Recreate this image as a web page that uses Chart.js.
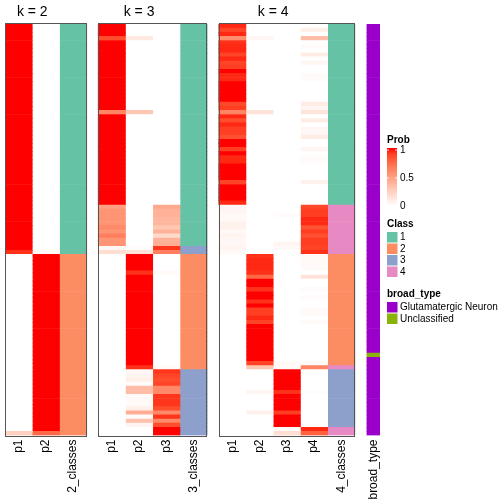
<!DOCTYPE html>
<html>
<head>
<meta charset="utf-8">
<script src="https://cdn.jsdelivr.net/npm/chart.js@4.4.1/dist/chart.umd.min.js"></script>
<style>
  html, body { margin: 0; padding: 0; background: #fff; }
</style>
</head>
<body>
<canvas id="heat" width="504" height="504"></canvas>
<script>
// membership probabilities per sample (rows top to bottom)
const k2_p1 = [
  1,1,1,1,1,1,1,1,1,1, 1,1,1,1,1,1,1,1,1,1, 1,1,1,1,1,1,1,1,1,1, 1,1,1,1,1,1,1,1,1,1,
  1,1,1,1,1,1,1,1,1,1, 1,1,1,1,1,.93,0,0,0,0, 0,0,0,0,0,0,0,0,0,0, 0,0,0,0,0,0,0,0,0,0,
  0,0,0,0,0,0,0,0,0,0, 0,0,0,0,0,0,0,0,0,.25];
const k2_p2 = [
  0,0,0,0,0,0,0,0,0,0, 0,0,0,0,0,0,0,0,0,0, 0,0,0,0,0,0,0,0,0,0, 0,0,0,0,0,0,0,0,0,0,
  0,0,0,0,0,0,0,0,0,0, 0,0,0,0,0,.03,1,1,1,1, 1,1,1,1,1,1,1,1,1,1, 1,1,1,1,1,1,1,1,1,1,
  1,1,1,1,1,1,1,1,1,1, 1,1,1,1,1,1,1,1,1,.75];
const k2_class = [
  1,1,1,1,1,1,1,1,1,1, 1,1,1,1,1,1,1,1,1,1, 1,1,1,1,1,1,1,1,1,1, 1,1,1,1,1,1,1,1,1,1,
  1,1,1,1,1,1,1,1,1,1, 1,1,1,1,1,1,2,2,2,2, 2,2,2,2,2,2,2,2,2,2, 2,2,2,2,2,2,2,2,2,2,
  2,2,2,2,2,2,2,2,2,2, 2,2,2,2,2,2,2,2,2,2];

const k3_p1 = [
  1,1,1,.85,1,1,1,1,1,1, 1,1,1,1,1,1,1,1,1,1, 1,.62,1,1,1,1,1,1,1,1, 1,1,1,1,1,1,1,1,1,1,
  1,1,1,1,.5,.55,.55,.55,.55,.6, .55,.65,.55,.55,.04,.18,0,0,0,0, 0,0,0,0,0,0,0,0,0,0, 0,0,0,0,0,0,0,0,0,0,
  0,0,0,0,0,0,0,0,0,0, 0,0,0,0,0,0,0,0,0,0];
const k3_p2 = [
  0,0,0,.12,0,0,0,0,0,0, 0,0,0,0,0,0,0,0,0,0, 0,.3,0,0,0,0,0,0,0,0, 0,0,0,0,0,0,0,0,0,0,
  0,0,0,0,0,0,0,0,0,0, 0,0,0,0,.02,.15,1,1,1,1, .93,1,1,1,1,1,1,1,1,1, 1,1,1,1,1,1,1,1,1,1,
  1,1,1,.93,.04,.06,.08,.02,.35,.35, .03,.03,.03,.08,.42,.02,.32,.06,0,0];
const k3_p3 = [
  0,0,0,0,0,0,0,0,0,0, 0,0,0,0,0,0,0,0,0,0, 0,0,0,0,0,0,0,0,0,0, 0,0,0,0,0,0,0,0,0,0,
  0,0,0,0,.45,.4,.4,.38,.38,.3, .4,.2,.4,.42,.92,.65,0,0,0,0, .03,0,0,0,0,0,0,0,0,0, 0,0,0,0,0,0,0,0,0,0,
  0,0,0,.03,.92,.88,.85,.88,.6,.6, .92,.92,.92,.85,.6,.92,.6,.85,1,1];
const k3_class = [
  1,1,1,1,1,1,1,1,1,1, 1,1,1,1,1,1,1,1,1,1, 1,1,1,1,1,1,1,1,1,1, 1,1,1,1,1,1,1,1,1,1,
  1,1,1,1,1,1,1,1,1,1, 1,1,1,1,3,3,2,2,2,2, 2,2,2,2,2,2,2,2,2,2, 2,2,2,2,2,2,2,2,2,2,
  2,2,2,2,3,3,3,3,3,3, 3,3,3,3,3,3,3,3,3,3];

const k4_p1 = [
  .95,.88,.95,.58,.93,.95,.95,.88,.95,.88, .9,1,.95,.95,1,1,1,1,1,.87,
  .9,.62,.95,.85,.95,.9,.9,.84,1,1, .9,1,.95,.95,1,1,1,1,.88,1,
  1,1,1,.95,.04,.05,.03,.03,.07,.07, .03,.06,.04,.04,.06,.03,0,0,0,0,
  0,0,0,0,0,0,0,0,0,0, 0,0,0,0,0,0,0,0,0,0, 0,0,0,0,0,0,0,0,0,0, 0,0,0,0,0,0,0,0,0,0];
const k4_p2 = [
  0,0,0,.05,0,0,0,0,0,0, 0,0,0,0,0,0,0,0,0,0, 0,.15,0,0,0,0,0,0,0,0, 0,0,0,0,0,0,0,0,0,0,
  0,0,0,0,0,0,0,0,0,0, 0,0,0,0,0,0,.93,.95,.95,.95, .93,.75,1,1,.93,1,1,.93,1,.9,
  .9,.95,.88,1,1,1,1,1,1,1, 1,1,.88,.3,0,0,0,0,0,.05, 0,0,0,0,.07,0,0,0,0,0];
const k4_p3 = [
  0,0,0,0,0,0,0,0,0,0, 0,0,0,0,0,0,0,0,0,0, 0,0,0,0,0,0,0,0,0,0, 0,0,0,0,0,0,0,0,0,0,
  0,0,0,0,0,0,.02,0,0,0, 0,0,0,.05,.03,0,0,0,0,0, 0,0,0,0,0,0,0,0,0,0, 0,0,0,0,0,0,0,0,0,0,
  0,0,.03,.03,1,1,1,1,1,.93, 1,1,1,1,.9,1,1,1,.03,.17];
const k4_p4 = [
  0,.08,0,.35,0,.02,0,.1,0,.05, 0,0,.02,.02,0,0,0,0,0,.1, .05,.14,0,.1,0,.04,.04,.1,0,0,
  .05,0,.02,.02,0,0,0,0,.07,0, 0,0,0,.02,.87,.9,.9,.95,.95,.83, .9,.84,.9,.9,.88,.93,.03,.03,.03,.03,
  0,.15,0,0,.02,0,.02,0,0,.03, .03,0,.03,0,0,0,0,0,0,0, 0,0,.03,.62,0,0,0,0,0,.01,
  0,0,0,0,0,0,0,0,.95,.78];
const k4_class = [
  1,1,1,1,1,1,1,1,1,1, 1,1,1,1,1,1,1,1,1,1, 1,1,1,1,1,1,1,1,1,1, 1,1,1,1,1,1,1,1,1,1,
  1,1,1,1,4,4,4,4,4,4, 4,4,4,4,4,4,2,2,2,2, 2,2,2,2,2,2,2,2,2,2, 2,2,2,2,2,2,2,2,2,2,
  2,2,2,4,3,3,3,3,3,3, 3,3,3,3,3,3,3,3,4,4];

// broad_type per sample, index into broadLevels
const broadLevels = ['Glutamatergic Neuron', 'Unclassified'];
const broadType = [
  0,0,0,0,0,0,0,0,0,0, 0,0,0,0,0,0,0,0,0,0, 0,0,0,0,0,0,0,0,0,0, 0,0,0,0,0,0,0,0,0,0,
  0,0,0,0,0,0,0,0,0,0, 0,0,0,0,0,0,0,0,0,0, 0,0,0,0,0,0,0,0,0,0, 0,0,0,0,0,0,0,0,0,0,
  1,0,0,0,0,0,0,0,0,0, 0,0,0,0,0,0,0,0,0,0];

const classLevels = ['1', '2', '3', '4'];
const probTicks = [0, 0.5, 1];

// colours
const classColors = {1: '#66C2A5', 2: '#FC8D62', 3: '#8DA0CB', 4: '#E78AC3'};
const broadColors = ['#9A00C9', '#89B20B'];

// white -> red ramp interpolated in LAB
function toLin(c) { c /= 255; return c <= 0.04045 ? c / 12.92 : Math.pow((c + 0.055) / 1.055, 2.4); }
function fromLin(c) {
  var v = c <= 0.0031308 ? 12.92 * c : 1.055 * Math.pow(c, 1 / 2.4) - 0.055;
  return Math.round(Math.max(0, Math.min(1, v)) * 255);
}
function rgbToLab(r, g, b) {
  var R = toLin(r), G = toLin(g), B = toLin(b);
  var X = (0.4124564 * R + 0.3575761 * G + 0.1804375 * B) / 0.95047;
  var Y = 0.2126729 * R + 0.7151522 * G + 0.0721750 * B;
  var Z = (0.0193339 * R + 0.1191920 * G + 0.9503041 * B) / 1.08883;
  var f = t => t > 0.008856 ? Math.cbrt(t) : 7.787 * t + 16 / 116;
  return [116 * f(Y) - 16, 500 * (f(X) - f(Y)), 200 * (f(Y) - f(Z))];
}
function labToRgb(L, a, b) {
  var fy = (L + 16) / 116, fx = fy + a / 500, fz = fy - b / 200;
  var inv = t => t * t * t > 0.008856 ? t * t * t : (t - 16 / 116) / 7.787;
  var X = inv(fx) * 0.95047, Y = inv(fy), Z = inv(fz) * 1.08883;
  var R = 3.2404542 * X - 1.5371385 * Y - 0.4985314 * Z;
  var G = -0.9692660 * X + 1.8760108 * Y + 0.0415560 * Z;
  var B = 0.0556434 * X - 0.2040259 * Y + 1.0572252 * Z;
  return 'rgb(' + fromLin(R) + ',' + fromLin(G) + ',' + fromLin(B) + ')';
}
const labWhite = rgbToLab(255, 255, 255);
const labRed = rgbToLab(255, 0, 0);
function probColor(v) {
  return labToRgb(
    labWhite[0] + (labRed[0] - labWhite[0]) * v,
    labWhite[1] + (labRed[1] - labWhite[1]) * v,
    labWhite[2] + (labRed[2] - labWhite[2]) * v);
}

// layout in column units
const panels = [
  {title: 'k = 2', probs: [k2_p1, k2_p2], cls: k2_class, x0: 0},
  {title: 'k = 3', probs: [k3_p1, k3_p2, k3_p3], cls: k3_class, x0: 3.42},
  {title: 'k = 4', probs: [k4_p1, k4_p2, k4_p3, k4_p4], cls: k4_class, x0: 7.84}
];
const broadX0 = 13.28, broadW = 0.48, xMax = 13.76;

const rowIds = k2_p1.map((v, i) => 'S' + (i + 1));
const datasets = [];
const tickPos = [];
const tickText = [];

function addColumn(x0, w, colors, label) {
  datasets.push({
    data: rowIds.map(() => [x0, x0 + w]),
    backgroundColor: colors,
    borderWidth: 0,
    borderSkipped: false
  });
  tickPos.push(x0 + w / 2);
  tickText.push(label);
}

panels.forEach(p => {
  var k = p.probs.length;
  p.probs.forEach((vals, j) => addColumn(p.x0 + j, 1, vals.map(probColor), 'p' + (j + 1)));
  addColumn(p.x0 + k, 1, p.cls.map(c => classColors[c]), k + '_classes');
});
addColumn(broadX0, broadW, broadType.map(b => broadColors[b]), 'broad_type');

const FONT = "'Liberation Sans', Arial, sans-serif";

const decor = {
  id: 'decor',
  afterDraw(chart) {
    const ctx = chart.ctx;
    const xs = chart.scales.x;
    const area = chart.chartArea;
    ctx.save();

    // panel borders and titles
    panels.forEach(p => {
      var k = p.probs.length;
      var left = xs.getPixelForValue(p.x0), right = xs.getPixelForValue(p.x0 + k + 1);
      ctx.strokeStyle = '#555';
      ctx.lineWidth = 1;
      ctx.strokeRect(Math.round(left) + 0.5, Math.round(area.top) - 0.5,
        Math.round(right) - Math.round(left) - 1, Math.round(area.bottom) - Math.round(area.top) + 1);
      ctx.fillStyle = '#000';
      ctx.font = '14px ' + FONT;
      ctx.textAlign = 'center';
      ctx.textBaseline = 'alphabetic';
      ctx.fillText(p.title, xs.getPixelForValue(p.x0 + k / 2), 16);
    });

    // legends
    var lx = 387;
    ctx.textAlign = 'left';
    ctx.textBaseline = 'alphabetic';
    ctx.fillStyle = '#000';
    ctx.font = 'bold 10px ' + FONT;
    ctx.fillText('Prob', lx, 143);

    var gTop = 148, gBot = 206;
    var grad = ctx.createLinearGradient(0, gTop, 0, gBot);
    for (var i = 0; i <= 10; i++) grad.addColorStop(i / 10, probColor(1 - i / 10));
    ctx.fillStyle = grad;
    ctx.fillRect(lx, gTop, 10, gBot - gTop);
    ctx.strokeStyle = 'rgba(255,255,255,0.8)';
    ctx.font = '10px ' + FONT;
    ctx.textBaseline = 'middle';
    probTicks.forEach(t => {
      var y = 206 - t * 56;
      if (t > 0) {
        ctx.beginPath();
        ctx.moveTo(lx, y); ctx.lineTo(lx + 2, y);
        ctx.moveTo(lx + 8, y); ctx.lineTo(lx + 10, y);
        ctx.stroke();
      }
      ctx.fillStyle = '#000';
      ctx.fillText(String(t), lx + 13, y);
    });

    ctx.font = 'bold 10px ' + FONT;
    ctx.textBaseline = 'alphabetic';
    ctx.fillText('Class', lx, 227);
    ctx.font = '10px ' + FONT;
    ctx.textBaseline = 'middle';
    classLevels.forEach((c, i) => {
      var y = 232 + i * 11.5;
      ctx.fillStyle = classColors[c];
      ctx.fillRect(lx, y, 10.5, 10.5);
      ctx.fillStyle = '#000';
      ctx.fillText(c, lx + 13, y + 5.5);
    });

    ctx.font = 'bold 10px ' + FONT;
    ctx.textBaseline = 'alphabetic';
    ctx.fillText('broad_type', lx, 297);
    ctx.font = '10px ' + FONT;
    ctx.textBaseline = 'middle';
    broadLevels.forEach((b, i) => {
      var y = 302 + i * 11.5;
      ctx.fillStyle = broadColors[i];
      ctx.fillRect(lx, y, 10.5, 10.5);
      ctx.fillStyle = '#000';
      ctx.fillText(b, lx + 13, y + 5.5);
    });
    ctx.restore();
  }
};

new Chart(document.getElementById('heat'), {
  type: 'bar',
  data: { labels: rowIds, datasets: datasets },
  options: {
    indexAxis: 'y',
    responsive: false,
    devicePixelRatio: 1,
    animation: false,
    events: [],
    grouped: false,
    barPercentage: 1,
    categoryPercentage: 1,
    layout: { padding: { left: 5, top: 24, right: 124, bottom: 0 } },
    plugins: { legend: { display: false }, tooltip: { enabled: false } },
    scales: {
      y: { type: 'category', display: false, offset: true },
      x: {
        type: 'linear',
        min: 0,
        max: xMax,
        grid: { display: false, drawTicks: false },
        border: { display: false },
        afterBuildTicks: s => { s.ticks = tickPos.map(v => ({ value: v })); },
        afterFit: s => { s.height = 68.5; },
        ticks: {
          autoSkip: false,
          minRotation: 90,
          maxRotation: 90,
          padding: 4,
          color: '#000',
          font: { family: FONT, size: 12 },
          callback: (v, i) => tickText[i]
        }
      }
    }
  },
  plugins: [decor]
});
</script>
</body>
</html>
